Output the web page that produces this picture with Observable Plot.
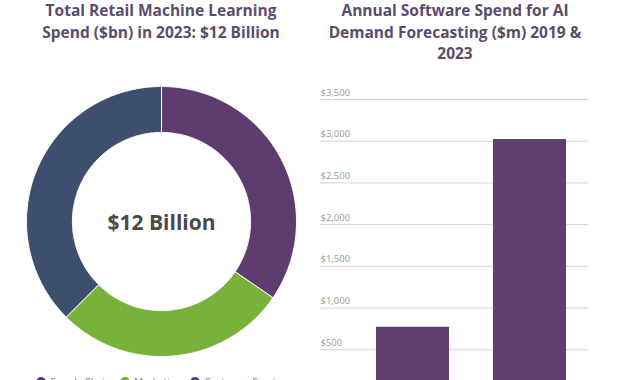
<!DOCTYPE html>
<html>
<head>
<meta charset="utf-8">
<script src="https://cdn.jsdelivr.net/npm/d3@7"></script>
<script src="https://cdn.jsdelivr.net/npm/@observablehq/plot@0.6"></script>
<style>
  html, body { margin: 0; padding: 0; background: #fff; overflow: hidden; }
  #root { position: relative; width: 630px; height: 380px; overflow: hidden; font-family: "Open Sans", sans-serif; }
  .title { position: absolute; text-align: center; font-weight: 700; font-size: 15.5px; line-height: 21.5px; color: #5b4c6c; }
  .abs { position: absolute; }
  #legend { position: absolute; left: 11px; width: 300px; top: 377px; display: flex; justify-content: center; gap: 9px; font-size: 10px; color: #777; line-height: 10px; }
  #legend .item { display: flex; align-items: flex-start; gap: 4px; white-space: nowrap; }
  #legend .sw { width: 10px; height: 10px; border-radius: 50%; display: inline-block; }
</style>
</head>
<body>
<div id="root">
  <div class="title" style="left:11px; top:0px; width:300px;">Total Retail Machine Learning<br>Spend ($bn) in 2023: $12 Billion</div>
  <div class="title" style="left:305px; top:0px; width:300px;">Annual Software Spend for AI<br>Demand Forecasting ($m) 2019 &amp;<br>2023</div>
  <div id="donut" class="abs" style="left:26px; top:86px;"></div>
  <div id="bars" class="abs" style="left:300px; top:80px;"></div>
  <div id="legend"></div>
</div>
<script>
// ---- Data ----
const segmentLabels = ["Supply Chain", "Marketing", "Customer Service"];
const segmentValues = [4.15, 3.35, 4.5];
const totalLabel = "$12 Billion";

const years = ["2019", "2023"];
const spendValues = [770, 3020];
const yTicks = [0, 500, 1000, 1500, 2000, 2500, 3000, 3500];

// ---- Styles ----
const segmentColors = ["#5e3c70", "#79b23a", "#3e4e6d"];
const barColor = "#5e3f70";

// ---- Donut ----
const innerR = 0.66;
const pie = d3.pie().sort(null).value(d => d.value)(
  segmentLabels.map((label, i) => ({label, value: segmentValues[i]}))
);
const ringPoints = [];
pie.forEach(a => {
  const n = Math.max(8, Math.ceil((a.endAngle - a.startAngle) / 0.01));
  for (let k = 0; k <= n; k++) {
    const t = a.startAngle + (a.endAngle - a.startAngle) * k / n;
    ringPoints.push({label: a.data.label, x: Math.sin(t), y: Math.cos(t)});
  }
  for (let k = n; k >= 0; k--) {
    const t = a.startAngle + (a.endAngle - a.startAngle) * k / n;
    ringPoints.push({label: a.data.label, x: innerR * Math.sin(t), y: innerR * Math.cos(t)});
  }
});

const donut = Plot.plot({
  width: 270, height: 270,
  margin: 0,
  x: {domain: [-1, 1], axis: null},
  y: {domain: [-1, 1], axis: null},
  color: {domain: segmentLabels, range: segmentColors},
  marks: [
    Plot.line(ringPoints, {x: "x", y: "y", z: "label", fill: "label", stroke: "#fff", strokeWidth: 1, curve: "linear-closed"}),
    Plot.text([totalLabel], {x: () => 0, y: () => 0, text: d => d, fontSize: 21, fontWeight: 700, fill: "#4a4a4a", fontFamily: "Open Sans", dy: 2})
  ]
});
document.getElementById("donut").appendChild(donut);

// legend
const legend = document.getElementById("legend");
segmentLabels.forEach((l, i) => {
  const it = document.createElement("div");
  it.className = "item";
  it.innerHTML = `<span class="sw" style="background:${segmentColors[i]}"></span><span>${l}</span>`;
  legend.appendChild(it);
});

// ---- Bars ----
const barData = years.map((year, i) => ({year, value: spendValues[i]}));
const fmt = d3.format(",");
const bars = Plot.plot({
  width: 330, height: 340,
  marginTop: 19, marginBottom: 29, marginLeft: 20, marginRight: 42,
  style: {fontFamily: "Open Sans", background: "transparent"},
  x: {domain: years, range: [76, 266], paddingInner: 0.38, paddingOuter: 0, axis: null},
  y: {domain: [0, 3500], axis: null},
  marks: [
    Plot.ruleY(yTicks, {stroke: "#d4d4d4", strokeWidth: 1}),
    Plot.text(yTicks, {y: d => d, frameAnchor: "left", text: d => "$" + fmt(d), textAnchor: "start", dy: -7, fontSize: 9.5, fill: "#9a9a9a"}),
    Plot.barY(barData, {x: "year", y: "value", fill: barColor})
  ]
});
document.getElementById("bars").appendChild(bars);
</script>
</body>
</html>
